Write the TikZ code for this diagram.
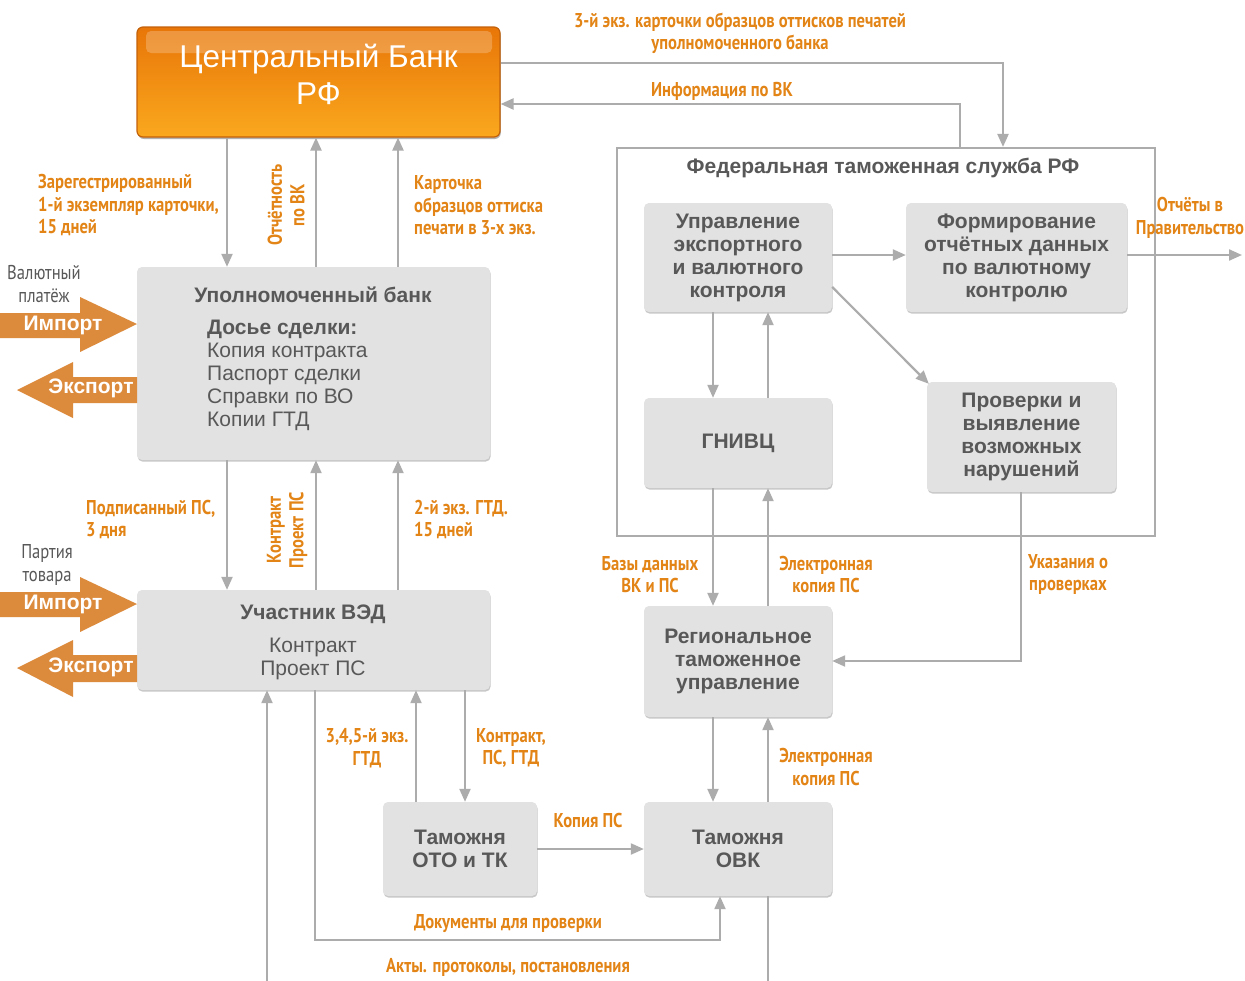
\documentclass[tikz,border=0pt]{standalone}
\usepackage{fontspec}
\setmainfont{Liberation Sans}
\newfontfamily\lbl[FakeStretch=0.83]{PT Sans}
\usetikzlibrary{arrows.meta,shadows}
\definecolor{lblorange}{RGB}{226,132,22}
\definecolor{arrorange}{RGB}{220,138,60}
\definecolor{boxgray}{RGB}{226,226,226}
\definecolor{linegray}{RGB}{172,172,172}
\definecolor{txtgray}{RGB}{88,88,88}
\definecolor{cbtop}{RGB}{232,118,8}
\definecolor{cbbot}{RGB}{250,168,30}
\definecolor{cbedge}{RGB}{196,98,10}
\tikzset{
  box/.style={fill=boxgray, draw=none, rounded corners=5pt, text=txtgray,
    font=\bfseries\fontsize{21}{23}\selectfont, align=center, inner sep=0pt,
    drop shadow={shadow xshift=0.6pt, shadow yshift=-1.6pt, opacity=0.22, fill=black}},
  cbbox/.style={rounded corners=6pt, top color=cbtop, bottom color=cbbot, draw=cbedge,
    line width=1.2pt, minimum width=363pt, minimum height=110pt, inner sep=0pt,
    drop shadow={shadow xshift=0.8pt, shadow yshift=-2pt, opacity=0.3, fill=black}},
  cbtext/.style={text=white, font=\fontsize{31.5}{37}\selectfont, align=center, inner sep=0pt},
  frame/.style={draw=linegray, line width=2.2pt, fill=none, inner sep=0pt},
  ln/.style={draw=linegray, line width=2.2pt},
  arr/.style={draw=linegray, line width=2.2pt, -{Triangle[length=13pt,width=11pt]}},
  lab/.style={text=lblorange, font=\lbl\bfseries\fontsize{20}{22.5}\selectfont, align=center, inner sep=0pt},
  gl/.style={text=txtgray, font=\lbl\fontsize{20}{23}\selectfont, align=center, inner sep=0pt},
  bigarr/.style={fill=arrorange, draw=none},
  arrtxt/.style={text=white, font=\bfseries\fontsize{21}{24}\selectfont, inner sep=0pt},
  btxt/.style={text=txtgray, font=\bfseries\fontsize{21}{23}\selectfont, inner sep=0pt, align=center},
  rtxt/.style={text=txtgray, font=\fontsize{21}{23}\selectfont, inner sep=0pt, align=left},
}
\begin{document}
\begin{tikzpicture}[x=1pt,y=-1pt]
\useasboundingbox (0,0) rectangle (1245,980);
\clip (0,0) rectangle (1245,980);
\fill[white] (0,0) rectangle (1245,980);

% ---------- Central Bank ----------
\node[cbbox] (cb) at (318.5,82) {};
\fill[white, opacity=0.22, rounded corners=5pt] (146,31) rectangle (492,53);
\node[cbtext] (cbt) at (318.5,74) {Центральный Банк\\РФ};

% ---------- FTS frame ----------
\node[frame, minimum width=538pt, minimum height=388pt] (fts) at (886,342) {};
\node[btxt] (ftst) at (883,168) {Федеральная таможенная служба РФ};

% ---------- boxes ----------
\node[box, minimum width=188pt, minimum height=109pt] (uevk) at (738,257.5) {Управление\\экспортного\\и валютного\\контроля};
\node[box, minimum width=221pt, minimum height=109pt] (form) at (1016.5,257.5) {Формирование\\отчётных данных\\по валютному\\контролю};
\node[box, minimum width=188pt, minimum height=90pt] (gnivc) at (738,443) {ГНИВЦ};
\node[box, minimum width=189pt, minimum height=110pt] (prov) at (1021.5,437) {Проверки и\\выявление\\возможных\\нарушений};
\node[box, minimum width=188pt, minimum height=111pt] (rtu) at (738,661.5) {Региональное\\таможенное\\управление};
\node[box, minimum width=188pt, minimum height=94pt] (ovk) at (738,849) {Таможня\\ОВК};
\node[box, minimum width=154pt, minimum height=94pt] (oto) at (460,849) {Таможня\\ОТО и ТК};
\node[box, minimum width=353pt, minimum height=193pt] (ub) at (313.5,363.5) {};
\node[box, minimum width=353pt, minimum height=100pt] (uved) at (313.5,640) {};

\node[btxt] (ubt) at (313,295) {Уполномоченный банк};
\node[rtxt, anchor=north west] (ubl) at (207,320) {\textbf{Досье сделки:}\\Копия контракта\\Паспорт сделки\\Справки по ВО\\Копии ГТД};
\node[btxt] (uvedt) at (313,614) {Участник ВЭД};
\node[rtxt, align=center] (uvedl) at (313,659) {Контракт\\Проект ПС};

% ---------- big orange arrows ----------
\fill[bigarr] (0,313) -- (80,313) -- (80,297) -- (137,324) -- (80,352) -- (80,338) -- (0,338) -- cycle;
\node[arrtxt] (imp1) at (63,325) {Импорт};
\fill[bigarr] (17,390) -- (73,362) -- (73,377) -- (137,377) -- (137,403) -- (73,403) -- (73,418) -- cycle;
\node[arrtxt] (exp1) at (91,388) {Экспорт};
\fill[bigarr] (0,592) -- (80,592) -- (80,577) -- (137,604) -- (80,632) -- (80,617) -- (0,617) -- cycle;
\node[arrtxt] (imp2) at (63,604) {Импорт};
\fill[bigarr] (17,668) -- (73,640) -- (73,655) -- (137,655) -- (137,682) -- (73,682) -- (73,697) -- cycle;
\node[arrtxt] (exp2) at (91,667) {Экспорт};
\node[gl] (valp) at (44,284) {Валютный\\платёж};
\node[gl] (part) at (47,565) {Партия\\товара};

% ---------- connectors ----------
\coordinate (gov) at (1242,255);
\coordinate (botA) at (768,985);
\coordinate (botB) at (267,985);

\draw[arr] (cb.east |- 0,63) -| (fts.north -| 1003,0);
\draw[arr] (fts.north -| 960,0) |- (cb.east |- 0,104);

\draw[arr] (cb.south -| 227,0) -- (ub.north -| 227,0);
\draw[arr] (ub.north -| 316,0) -- (cb.south -| 316,0);
\draw[arr] (ub.north -| 398,0) -- (cb.south -| 398,0);

\draw[arr] (ub.south -| 227,0) -- (uved.north -| 227,0);
\draw[arr] (uved.north -| 316,0) -- (ub.south -| 316,0);
\draw[arr] (uved.north -| 398,0) -- (ub.south -| 398,0);

\draw[arr] (oto.north -| 416,0) -- (uved.south -| 416,0);
\draw[arr] (uved.south -| 465,0) -- (oto.north -| 465,0);
\draw[arr] (oto.east) -- (ovk.west);
\draw[arr] (uved.south -| 315,0) -- (315,940) -| (ovk.south -| 720,0);
\draw[ln] (ovk.south -| 768,0) -- (botA);
\draw[arr] (botB) -- (uved.south -| 267,0);

\draw[arr] (uevk.east |- 0,255) -- (form.west |- 0,255);
\draw[arr] (form.east |- 0,255) -- (gov);
\draw[arr] (uevk.east |- 0,287) -- ([xshift=2pt,yshift=-2pt]prov.north west);
\draw[arr] (uevk.south -| 713,0) -- (gnivc.north -| 713,0);
\draw[arr] (gnivc.north -| 768,0) -- (uevk.south -| 768,0);
\draw[arr] (gnivc.south -| 713,0) -- (rtu.north -| 713,0);
\draw[arr] (rtu.north -| 768,0) -- (gnivc.south -| 768,0);
\draw[arr] (prov.south -| 1021,0) |- (rtu.east |- 0,661);
\draw[arr] (rtu.south -| 713,0) -- (ovk.north -| 713,0);
\draw[arr] (ovk.north -| 768,0) -- (rtu.south -| 768,0);

% ---------- labels ----------
\node[lab] (l1) at (740,33.5) {3-й экз. карточки образцов оттисков печатей\\уполномоченного банка};
\node[lab] (l2) at (722,91) {Информация по ВК};
\node[lab] (l3) at (1190,218) {Отчёты в\\Правительство};
\node[lab, anchor=west, align=left] (l4) at (38,205.5) {Зарегестрированный\\1-й экземпляр карточки,\\15 дней};
\node[lab, rotate=90] (l5) at (286,205) {Отчётность\\по ВК};
\node[lab, anchor=west, align=left] (l6) at (414,205.5) {Карточка\\образцов оттиска\\печати в 3-х экз.};
\node[lab, anchor=west, align=left] (l7) at (86,519.5) {Подписанный ПС,\\3 дня};
\node[lab, rotate=90] (l8) at (287,530) {Контракт\\Проект ПС};
\node[lab, anchor=west, align=left] (l9) at (414,519.5) {2-й экз. ГТД.\\15 дней};
\node[lab] (l10) at (367,748) {3,4,5-й экз.\\ГТД};
\node[lab] (l11) at (511,748) {Контракт,\\ПС, ГТД};
\node[lab] (l12) at (588,820) {Копия ПС};
\node[lab] (l13) at (508,924) {Документы для проверки};
\node[lab] (l14) at (508,967) {Акты. протоколы, постановления};
\node[lab] (l15) at (650,574.5) {Базы данных\\ВК и ПС};
\node[lab] (l16) at (826,574.5) {Электронная\\копия ПС};
\node[lab] (l17) at (1068,574.5) {Указания о\\проверках};
\node[lab] (l18) at (826,767) {Электронная\\копия ПС};
\end{tikzpicture}
\end{document}
